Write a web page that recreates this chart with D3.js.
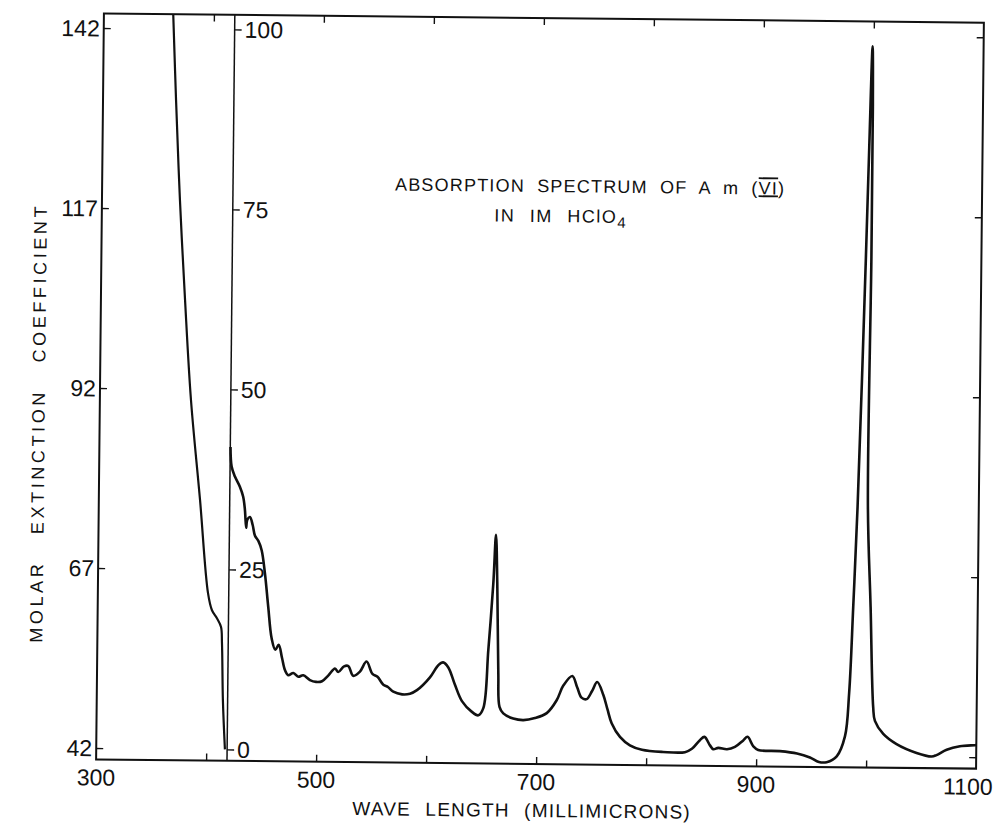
<!DOCTYPE html>
<html><head><meta charset="utf-8">
<script src="https://cdn.jsdelivr.net/npm/d3@7"></script>
<style>
body{margin:0;background:#fff}
svg{display:block}
text{font-family:"Liberation Sans","DejaVu Sans",sans-serif;fill:#111}
</style>
</head><body>
<svg id="chart" width="1000" height="828"></svg>
<script>
// ---- data ----
// Ultraviolet part (plotted against the left scale, 42-142)
const uvWavelength  = [362.4, 363.0, 366.4, 370.9, 376.5, 382.8, 392.0, 400.1, 403.9, 408.5, 412.3, 413.3, 414.7, 417.0];
const uvCoefficient = [146.0, 144.1, 132.1, 118.2, 104.3, 90.5, 76.6, 63.7, 61.3, 60.2, 59.0, 56.8, 48.8, 42.0];

// Visible / near-IR part (plotted against the inner scale, 0-100)
const visWavelength = [419.2, 420.4, 423.5, 428.1, 431.2, 432.9, 434.2, 435.1, 437.5, 440.1, 442.3, 445.4, 448.5, 451.7,
  455.0, 458.4, 461.9, 464.9, 468.0, 470.8, 473.8, 478.5, 483.0, 487.5, 493.6, 499.2, 504.6, 510.2, 516.3, 519.3,
  524.5, 528.4, 532.9, 539.0, 544.9, 550.4, 555.0, 560.4, 564.6, 569.5, 577.5, 584.7, 591.0, 602.7, 610.2, 614.5,
  619.3, 625.5, 632.0, 640.9, 647.0, 651.5, 655.5, 659.4, 661.4, 663.0, 664.8, 666.2, 669.7, 678.8, 688.0, 698.5,
  709.2, 718.1, 724.0, 732.1, 736.7, 740.7, 745.3, 750.1, 754.8, 760.5, 764.4, 768.3, 776.0, 785.1, 796.1, 815.3,
  835.2, 841.5, 848.7, 852.8, 857.9, 860.9, 865.5, 873.4, 880.6, 888.1, 892.0, 897.3, 901.8, 921.5, 937.1, 948.9,
  957.1, 964.1, 973.2, 980.5, 983.9, 986.8, 989.8, 995.0, 997.0, 999.1, 999.9, 1000.0, 999.2, 1002.6, 1005.9,
  1007.6, 1015.3, 1027.5, 1045.8, 1059.5, 1063.9, 1073.1, 1085.1, 1098.7, 1100.0];
const visCoefficient = [42.0, 39.3, 37.9, 36.5, 35.1, 33.3, 30.8, 31.9, 32.3, 31.2, 29.7, 29.0, 27.7, 24.5,
  19.9, 15.5, 13.9, 14.6, 12.8, 11.1, 10.4, 10.7, 10.2, 10.4, 9.75, 9.5, 9.6, 10.4, 11.4, 10.9,
  11.7, 11.75, 10.4, 11.0, 12.4, 10.7, 10.3, 9.2, 8.9, 8.25, 7.9, 8.0, 8.5, 10.3, 12.0, 12.4,
  11.7, 9.3, 7.05, 5.6, 5.1, 6.1, 14.2, 23.4, 30.2, 23.5, 11.0, 6.3, 5.4, 4.7, 4.5, 4.8,
  5.5, 7.3, 9.35, 10.7, 9.1, 7.7, 7.5, 8.6, 9.9, 8.1, 6.1, 4.2, 2.3, 1.15, 0.55, 0.28,
  0.28, 0.76, 1.97, 2.43, 1.26, 0.73, 0.93, 0.75, 1.08, 2.0, 2.5, 1.2, 0.7, 0.56, 0.26, -0.28,
  -0.89, -0.9, -0.08, 2.7, 8.7, 20.7, 34.6, 69.3, 84.6, 98.6, 90.2, 69.3, 34.6, 20.7, 6.8,
  4.9, 3.1, 1.7, 0.5, 0.03, 0.24, 1.0, 1.5, 1.67, 1.7];

const xLabelTicks = [300, 500, 700, 900, 1100];
const xAllTicks = [400, 500, 600, 700, 800, 900, 1000];
const leftTickLabels = [42, 67, 92, 117, 142];
const innerTickLabels = [0, 25, 50, 75, 100];
const splitWavelength = 419;

const titleLine1 = "ABSORPTION SPECTRUM OF A m (";
const titleNumeral = "VI";
const titleLine2 = "IN IM HClO";
const xTitle = "WAVE LENGTH (MILLIMICRONS)";
const yTitle = "MOLAR EXTINCTION COEFFICIENT";

// ---- layout ----
const L = 100, R = 980, T = 18, B = 764;
const svg = d3.select("#chart");
const g = svg.append("g").attr("transform", "rotate(0.6 536 390)");

const x = d3.scaleLinear().domain([300, 1100]).range([L, R]);
const yIn = d3.scaleLinear().domain([0, 100]).range([752.6, 32.6]);
const yLeft = d3.scaleLinear().domain([42, 142]).range([752.6, 32.6]);

g.append("clipPath").attr("id", "frameClip")
  .append("rect").attr("x", L).attr("y", T).attr("width", R - L).attr("height", B - T);

// frame
g.append("rect").attr("x", L).attr("y", T).attr("width", R - L).attr("height", B - T)
  .attr("fill", "none").attr("stroke", "#111").attr("stroke-width", 2);

const styleTicks = s => { s.select(".domain").remove(); s.selectAll("line").attr("stroke", "#111").attr("stroke-width", 1.4); };

// bottom and top axes (ticks inward)
g.append("g").attr("transform", `translate(0,${B})`)
  .call(d3.axisTop(x).tickValues(xAllTicks).tickSize(7).tickFormat("")).call(styleTicks);
g.append("g").attr("transform", `translate(0,${T})`)
  .call(d3.axisBottom(x).tickValues(xAllTicks).tickSize(7).tickFormat("")).call(styleTicks);

// x labels
g.append("g").selectAll("text").data(xLabelTicks).join("text")
  .attr("x", d => x(d) - (d === 1100 ? 8 : 0))
  .attr("y", 790)
  .attr("text-anchor", "middle")
  .attr("font-size", 23)
  .text(d => d);

// left axis (ticks inward, labels on the left)
g.append("g").attr("transform", `translate(${L},0)`)
  .call(d3.axisRight(yLeft).tickValues(leftTickLabels).tickSize(7).tickFormat("")).call(styleTicks);
g.append("g").selectAll("text").data(leftTickLabels).join("text")
  .attr("x", L - 4).attr("y", d => yLeft(d)).attr("dy", "0.36em")
  .attr("text-anchor", "end").attr("font-size", 23).text(d => d);

// inner axis
const xs = x(splitWavelength);
g.append("line").attr("x1", xs).attr("x2", xs).attr("y1", T).attr("y2", B)
  .attr("stroke", "#111").attr("stroke-width", 1.5);
g.append("g").attr("transform", `translate(${xs},0)`)
  .call(d3.axisRight(yIn).tickValues(innerTickLabels).tickSize(7).tickFormat("")).call(styleTicks);
g.append("g").selectAll("text").data(innerTickLabels).join("text")
  .attr("x", xs + 10).attr("y", d => yIn(d)).attr("dy", "0.36em")
  .attr("text-anchor", "start").attr("font-size", 23).text(d => d);

// right frame ticks
g.append("g").attr("transform", `translate(${R},0)`)
  .call(d3.axisLeft(yIn).tickValues(innerTickLabels).tickSize(7).tickFormat("")).call(styleTicks);

// curves
const uvLine = d3.line().x(d => x(d[0])).y(d => yLeft(d[1])).curve(d3.curveCatmullRom.alpha(0.5));
const visLine = d3.line().x(d => x(d[0])).y(d => yIn(d[1])).curve(d3.curveCatmullRom.alpha(0.5));
const curves = g.append("g").attr("clip-path", "url(#frameClip)");
curves.append("path").datum(d3.zip(uvWavelength, uvCoefficient))
  .attr("d", uvLine).attr("fill", "none").attr("stroke", "#111").attr("stroke-width", 2.2)
  .attr("stroke-linejoin", "round");
curves.append("path").datum(d3.zip(visWavelength, visCoefficient))
  .attr("d", visLine).attr("fill", "none").attr("stroke", "#111").attr("stroke-width", 2.6)
  .attr("stroke-linejoin", "round");

// titles
const t1 = g.append("text").attr("x", 588).attr("y", 192).attr("text-anchor", "middle")
  .attr("font-size", 18).attr("letter-spacing", 1.2).attr("word-spacing", 6);
t1.append("tspan").text(titleLine1);
t1.append("tspan").text(titleNumeral).style("text-decoration", "overline underline");
t1.append("tspan").text(")");
const t2 = g.append("text").attr("x", 559).attr("y", 222).attr("text-anchor", "middle")
  .attr("font-size", 18).attr("letter-spacing", 1.5).attr("word-spacing", 8);
t2.append("tspan").text(titleLine2);
t2.append("tspan").text("4").attr("dy", 5).attr("font-size", 15);

g.append("text").attr("x", 526).attr("y", 817).attr("text-anchor", "middle")
  .attr("font-size", 19).attr("letter-spacing", 1.2).attr("word-spacing", 8).text(xTitle);

g.append("text").attr("transform", "translate(45,428) rotate(-90)")
  .attr("text-anchor", "middle").attr("font-size", 18)
  .attr("letter-spacing", 3.6).attr("word-spacing", 18).text(yTitle);
</script>
</body></html>
